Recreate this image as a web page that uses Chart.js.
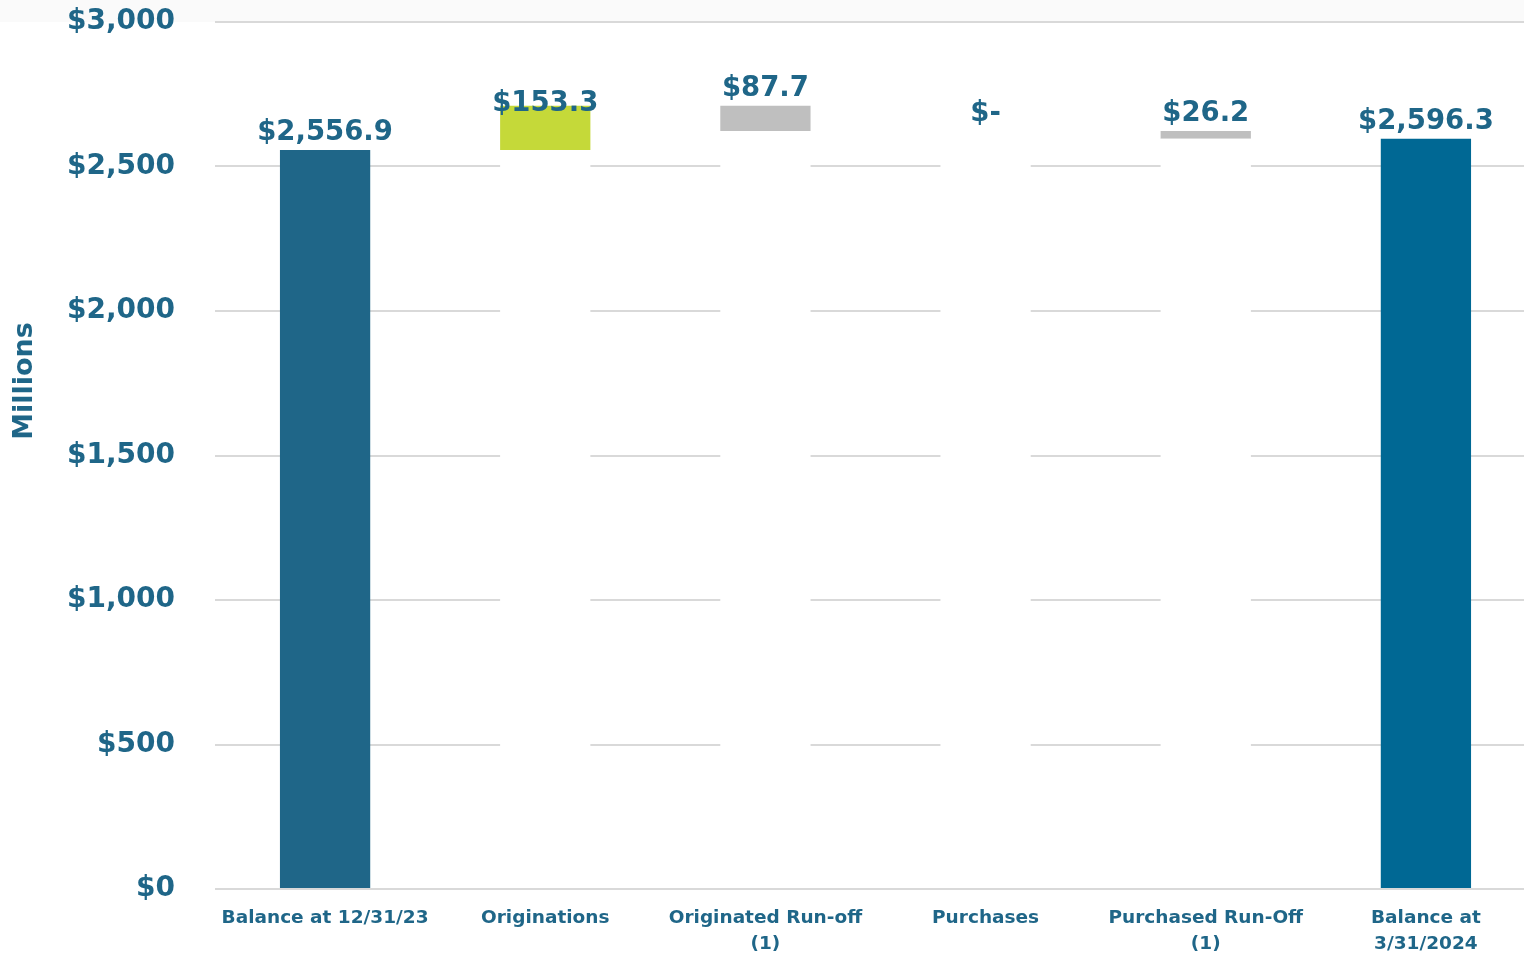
<!DOCTYPE html>
<html>
<head>
<meta charset="utf-8">
<script src="https://cdn.jsdelivr.net/npm/chart.js@4"></script>
<style>
  html, body { margin: 0; padding: 0; background: #fff; overflow: hidden; }
  #wrap { width: 1536px; height: 957px; }
</style>
</head>
<body>
<div id="wrap"><canvas id="waterfall"></canvas></div>
<script>
// categories and values (millions)
const categories = [
    'Balance at 12/31/23',
    'Originations',
    ['Originated Run-off', '(1)'],
    'Purchases',
    ['Purchased Run-Off', '(1)'],
    ['Balance at', '3/31/2024']
];
const baseValues = [0, 2556.9, 2622.5, 2622.5, 2596.3, 0];
const stepValues = [2556.9, 153.3, 87.7, 0, 26.2, 2596.3];
const yTicks = [0, 500, 1000, 1500, 2000, 2500, 3000];

const TEXT = '#1f6688';
const FONT = "'DejaVu Sans', sans-serif";
const barColors = ['#1f6688', '#c5d939', '#bfbfbf', '#bfbfbf', '#bfbfbf', '#006894'];

function money(v) {
    if (v === 0) return '$-';
    return '$' + v.toLocaleString('en-US', { minimumFractionDigits: 1, maximumFractionDigits: 1 });
}

const waterfallPlugin = {
    id: 'waterfallExtras',
    beforeDraw(chart) {
        const ctx = chart.ctx;
        ctx.save();
        ctx.fillStyle = '#fafafa';
        ctx.fillRect(0, 0, chart.width, chart.chartArea.top);
        ctx.restore();
    },
    afterDatasetsDraw(chart) {
        const ctx = chart.ctx;
        const area = chart.chartArea;
        const y0 = chart.scales.y.getPixelForValue(0);
        ctx.save();
        ctx.strokeStyle = '#d9d9d9';
        ctx.lineWidth = 2;
        ctx.beginPath();
        ctx.moveTo(area.left, y0);
        ctx.lineTo(area.right, y0);
        ctx.stroke();

        // axis title
        ctx.fillStyle = TEXT;
        ctx.font = "bold 27px " + FONT;
        ctx.textAlign = 'center';
        ctx.textBaseline = 'middle';
        ctx.save();
        ctx.translate(25, 381);
        ctx.rotate(-Math.PI / 2);
        ctx.fillText('Millions', 0, 0);
        ctx.restore();

        // value labels above each step
        const meta = chart.getDatasetMeta(1);
        ctx.font = "bold 27.5px " + FONT;
        meta.data.forEach((bar, i) => {
            const top = Math.min(bar.y, bar.base);
            const shift = i === 1 ? -2 : -17;
            ctx.fillText(money(stepValues[i]), bar.x, top + shift);
        });
        ctx.restore();
    }
};

const ctx = document.getElementById('waterfall');
new Chart(ctx, {
    type: 'bar',
    data: {
        labels: categories,
        datasets: [
            {
                label: 'base',
                data: baseValues,
                backgroundColor: '#ffffff',
                barPercentage: 0.41,
                categoryPercentage: 1
            },
            {
                label: 'step',
                data: stepValues,
                backgroundColor: barColors,
                barPercentage: 0.41,
                categoryPercentage: 1
            }
        ]
    },
    options: {
        responsive: true,
        maintainAspectRatio: false,
        animation: false,
        layout: { padding: { top: 22, right: 0, left: 0, bottom: 0 } },
        plugins: {
            legend: { display: false },
            tooltip: { enabled: false }
        },
        scales: {
            x: {
                stacked: true,
                afterFit(scale) {
                    scale.height = 68;
                    scale.paddingLeft = 0;
                    scale.paddingRight = 0;
                },
                grid: { display: false, drawTicks: false },
                border: { display: false },
                ticks: {
                    color: TEXT,
                    font: { family: FONT, size: 18.5, weight: 'bold', lineHeight: 1.4 },
                    padding: 16,
                    maxRotation: 0,
                    autoSkip: false
                }
            },
            y: {
                stacked: true,
                min: 0,
                max: 3000,
                afterBuildTicks(scale) {
                    scale.ticks = yTicks.map(v => ({ value: v }));
                },
                afterFit(scale) {
                    scale.width = 215;
                    scale.paddingTop = 0;
                    scale.paddingBottom = 0;
                },
                grid: { color: '#d9d9d9', lineWidth: 2, drawTicks: false },
                border: { display: false },
                ticks: {
                    color: TEXT,
                    font: { family: FONT, size: 28, weight: 'bold' },
                    padding: 40,
                    callback: v => v === 0 ? '$0' : '$' + v.toLocaleString('en-US')
                }
            }
        }
    },
    plugins: [waterfallPlugin]
});
</script>
</body>
</html>
